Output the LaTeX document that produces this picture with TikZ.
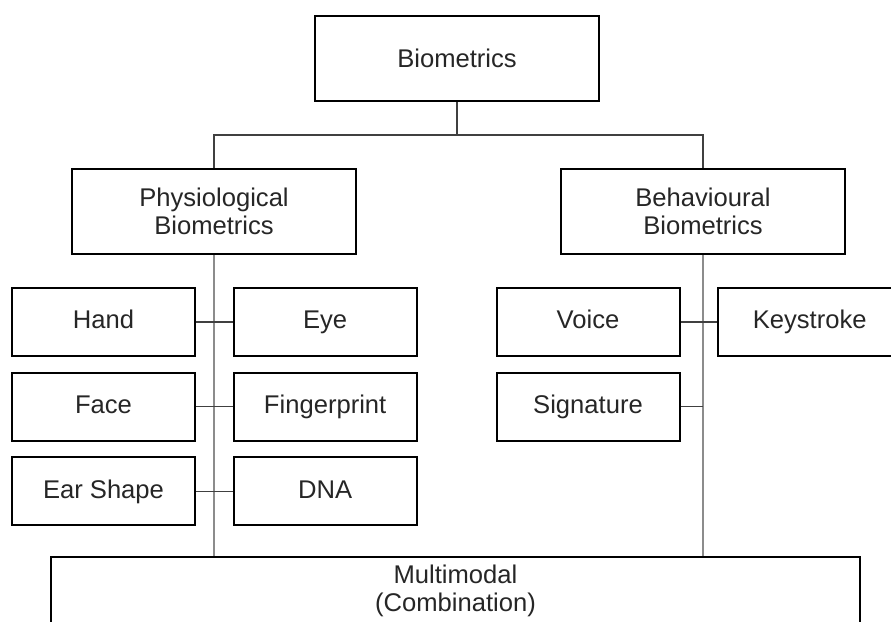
\documentclass[tikz,border=0pt]{standalone}
\usepackage{fontspec}
\setmainfont{Liberation Sans}
\usetikzlibrary{positioning}
\begin{document}
\begin{tikzpicture}[x=0.75pt, y=-0.75pt, node distance = {11pt and 27.5pt},
	main/.style = {draw, line width=1.5pt, minimum width=213pt, minimum height=63.75pt, align=center, text=black!85, font=\fontsize{19.2}{20.5}\selectfont},
	leaf/.style = {main, minimum width=137.25pt, minimum height=51pt, text height=14pt, text depth=4pt},
	link/.style = {line width=0.8pt, black!75},
	trunk/.style = {line width=0.9pt, black!45}]
			\useasboundingbox (0,0) rectangle (891,621);
			\clip (0,0) rectangle (891,621);
			
			\node[main] (bio) at (457,58.5) {Biometrics};
			\node[main] (phys) at (214,211.5) {Physiological\\Biometrics};
			\node[main] (beh) at (703,211.5) {Behavioural\\Biometrics};
			
			\node[leaf] (hand) at (103.5,322) {Hand};
			\node[leaf] (eye) [right=of hand] {Eye};
			\node[leaf] (face) [below=of hand] {Face};
			\node[leaf] (fing) [below=of eye] {Fingerprint};
			\node[leaf] (ear) [below=of face] {Ear Shape};
			\node[leaf] (dna) [below=of fing] {DNA};
			
			\node[leaf] (voice) at (588,322) {Voice};
			\node[leaf] (key) [right=of voice] {Keystroke};
			\node[leaf] (sig) [below=of voice] {Signature};
			
			\node[main, minimum width=606.75pt, minimum height=51pt, inner ysep=2pt] (multi) at (455.5,591) {Multimodal\\(Combination)};
			
			\coordinate (split) at (457,135);
			\draw[link] (bio) -- (split);
			\draw[link] (phys) |- (split) -| (beh);
			
			\draw[trunk] (phys) -- (phys |- multi.north);
			\draw[trunk] (beh) -- (beh |- multi.north);
			
			\draw[link] (hand) -- (eye);
			\draw[link] (face) -- (fing);
			\draw[link] (ear) -- (dna);
			\draw[link] (voice) -- (key);
			\draw[link] (sig) -- (sig -| beh);
		\end{tikzpicture}
\end{document}
